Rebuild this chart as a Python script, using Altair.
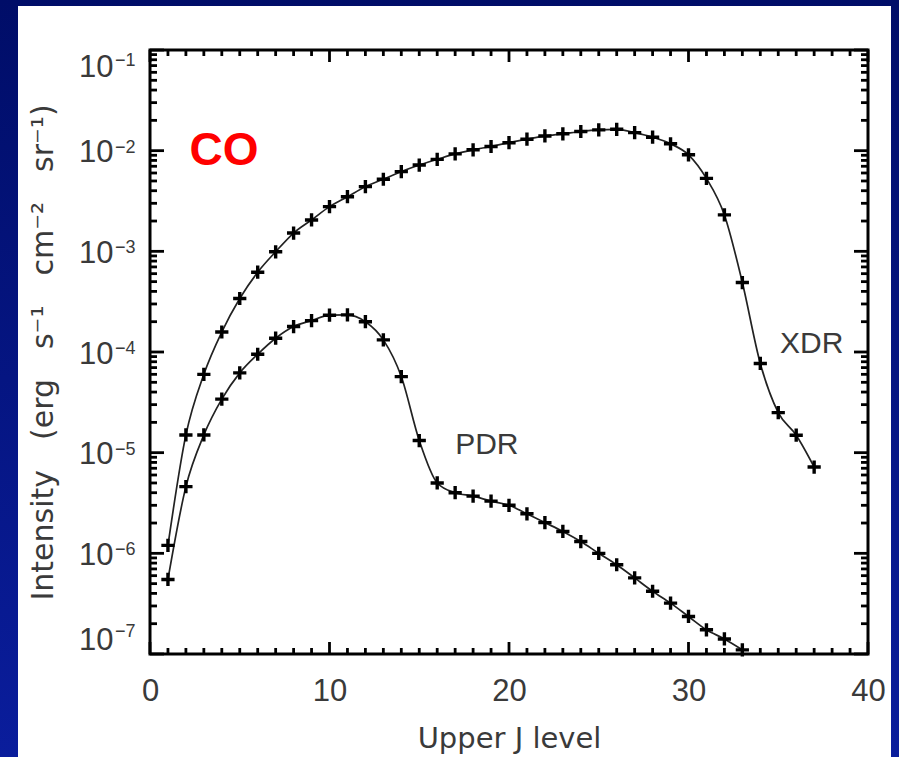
import altair as alt
import pandas as pd

# ---------------- data ----------------
J_XDR = list(range(1, 38))
XDR = [1.2e-6, 1.5e-5, 6.0e-5, 1.58e-4, 3.4e-4, 6.2e-4, 9.9e-4, 1.52e-3, 2.05e-3,
       2.78e-3, 3.49e-3, 4.39e-3, 5.2e-3, 6.19e-3, 7.2e-3, 8.2e-3, 9.3e-3, 1.02e-2,
       1.10e-2, 1.20e-2, 1.30e-2, 1.40e-2, 1.47e-2, 1.55e-2, 1.61e-2, 1.63e-2,
       1.51e-2, 1.36e-2, 1.17e-2, 9.1e-3, 5.3e-3, 2.3e-3, 4.9e-4, 7.7e-5, 2.5e-5,
       1.49e-5, 7.2e-6]
J_PDR = list(range(1, 34))
PDR = [5.5e-7, 4.6e-6, 1.5e-5, 3.4e-5, 6.2e-5, 9.5e-5, 1.37e-4, 1.79e-4, 2.05e-4,
       2.32e-4, 2.34e-4, 2.0e-4, 1.32e-4, 5.7e-5, 1.32e-5, 5.0e-6, 4.0e-6, 3.7e-6,
       3.3e-6, 3.0e-6, 2.47e-6, 2.02e-6, 1.65e-6, 1.31e-6, 1.0e-6, 7.7e-7, 5.7e-7,
       4.2e-7, 3.2e-7, 2.36e-7, 1.74e-7, 1.41e-7, 1.1e-7]

X_MAJOR = [0, 10, 20, 30, 40]
X_MINOR = [j for j in range(1, 40) if j % 10 != 0]
Y_MAJOR = [1e-7, 1e-6, 1e-5, 1e-4, 1e-3, 1e-2, 1e-1]
Y_EXP = ["−7", "−6", "−5", "−4", "−3", "−2", "−1"]
Y_MINOR = [k * 10.0 ** e for e in range(-7, -1) for k in range(2, 10)]

ANNOT_TEXT = ["PDR", "XDR"]
ANNOT_J = [17.0, 35.1]
ANNOT_I = [9.7e-6, 9.8e-5]
CO_J = [2.2]
CO_I = [7.2e-3]

X_TITLE = "Upper J level"
Y_TITLE = "Intensity\u2003(erg\u2003s⁻¹\u2003cm⁻²\u2003sr⁻¹)"

# ---------------- layout ----------------
W, H = 718, 604
PAD_L, PAD_T, PAD_R, PAD_B = 150, 50, 31, 103
FONT = "Liberation Sans"
TFONT = "DejaVu Sans"
TXT = "#3a3a3a"

df = pd.concat([
    pd.DataFrame({"J": J_XDR, "I": XDR, "model": "XDR"}),
    pd.DataFrame({"J": J_PDR, "I": PDR, "model": "PDR"}),
])

xs = alt.Scale(domain=[0, 40], nice=False, zero=False)
ys = alt.Scale(type="log", domain=[1e-7, 1e-1], nice=False)

x_enc = alt.X("J:Q", scale=xs,
              axis=alt.Axis(values=X_MAJOR, ticks=False, tickSize=0, domain=False, grid=False,
                            labelFontSize=31, labelFont=FONT, labelColor=TXT, labelPadding=22,
                            title=X_TITLE, titleFontSize=29, titleFont=TFONT,
                            titleFontWeight="normal", titleColor=TXT, titlePadding=18,
                            labelFlush=False, zindex=2))
y_enc = alt.Y("I:Q", scale=ys,
              axis=alt.Axis(values=Y_MAJOR, ticks=False, tickSize=0, domain=False, grid=False,
                            labelExpr="'10'", labelFontSize=31, labelFont=FONT,
                            labelColor=TXT, labelPadding=37, labelFlush=True, labelOffset=2,
                            title=Y_TITLE, titleFontSize=30,
                            titleFont=TFONT, titleFontWeight="normal", titleColor=TXT,
                            titlePadding=20, zindex=2))

dummy = pd.DataFrame({"a": [0]})
grad = alt.LinearGradient(gradient="linear",
                          stops=[alt.GradientStop(color="#000d68", offset=0),
                                 alt.GradientStop(color="#0a1d9c", offset=1)],
                          x1=0, x2=0, y1=0, y2=1)
bg = alt.Chart(dummy).mark_rect(fill=grad).encode(
    x=alt.value(-PAD_L), x2=alt.value(W + PAD_R), y=alt.value(-PAD_T), y2=alt.value(H + PAD_B))
panel = alt.Chart(dummy).mark_rect(fill="white").encode(
    x=alt.value(18 - PAD_L), x2=alt.value(891 - PAD_L), y=alt.value(6 - PAD_T), y2=alt.value(H + PAD_B))
frame = alt.Chart(dummy).mark_rect(fill=None, fillOpacity=0, stroke="black", strokeWidth=3).encode(
    x=alt.value(0), x2=alt.value(W), y=alt.value(0), y2=alt.value(H))

lines = alt.Chart(df).mark_line(interpolate="monotone", color="#222222", strokeWidth=1.7, clip=True).encode(
    x=x_enc, y=y_enc, detail="model:N")
plus = "M -1 0 L 1 0 M 0 -1 L 0 1"
points = alt.Chart(df).mark_point(shape=plus, size=175, strokeWidth=3.4, color="black",
                                  filled=False, opacity=1).encode(
    x=alt.X("J:Q", scale=xs), y=alt.Y("I:Q", scale=ys), detail="model:N")

tick_style = dict(color="black", strokeWidth=2.8)


def xticks(vals, length):
    d = pd.DataFrame({"J": vals})
    b = alt.Chart(d).mark_rule(**tick_style).encode(
        x=alt.X("J:Q", scale=xs), y=alt.value(H), y2=alt.value(H - length))
    t = alt.Chart(d).mark_rule(**tick_style).encode(
        x=alt.X("J:Q", scale=xs), y=alt.value(0), y2=alt.value(length))
    return [b, t]


def yticks(vals, length):
    d = pd.DataFrame({"I": vals})
    l = alt.Chart(d).mark_rule(**tick_style).encode(
        y=alt.Y("I:Q", scale=ys), x=alt.value(0), x2=alt.value(length))
    r = alt.Chart(d).mark_rule(**tick_style).encode(
        y=alt.Y("I:Q", scale=ys), x=alt.value(W), x2=alt.value(W - length))
    return [l, r]


ticks = xticks(X_MAJOR, 12) + xticks(X_MINOR, 6) + yticks(Y_MAJOR, 14) + yticks(Y_MINOR, 7)

# exponents of the y tick labels (superscripts next to the axis' "10")
exp_df = pd.DataFrame({"I": Y_MAJOR, "e": Y_EXP})


def exp_layer(sub, dy):
    return alt.Chart(sub).mark_text(font=FONT, fontSize=18, color=TXT, align="left",
                                    baseline="alphabetic", dy=dy).encode(
        y=alt.Y("I:Q", scale=ys), x=alt.value(-35), text="e:N")


exps = [exp_layer(exp_df.iloc[1:-1], 2), exp_layer(exp_df.iloc[-1:], 16),
        exp_layer(exp_df.iloc[:1], -17)]

annot = alt.Chart(pd.DataFrame({"J": ANNOT_J, "I": ANNOT_I, "t": ANNOT_TEXT})).mark_text(
    font=FONT, fontSize=30, color=TXT, align="left", baseline="alphabetic").encode(
    x=alt.X("J:Q", scale=xs), y=alt.Y("I:Q", scale=ys), text="t:N")
co = alt.Chart(pd.DataFrame({"J": CO_J, "I": CO_I, "t": ["CO"]})).mark_text(
    font=FONT, fontSize=46, fontWeight="bold", color="#ff0000", align="left",
    baseline="alphabetic").encode(
    x=alt.X("J:Q", scale=xs), y=alt.Y("I:Q", scale=ys), text="t:N")

chart = alt.layer(bg, panel, frame, lines, points, *ticks, *exps, annot, co).properties(
    width=W, height=H,
    autosize=alt.AutoSizeParams(type="none"),
    padding={"left": PAD_L, "top": PAD_T, "right": PAD_R, "bottom": PAD_B},
    background="#06157f",
).configure_view(strokeWidth=0)

chart.save("out.html", embed_options={"renderer": "svg", "actions": False})
